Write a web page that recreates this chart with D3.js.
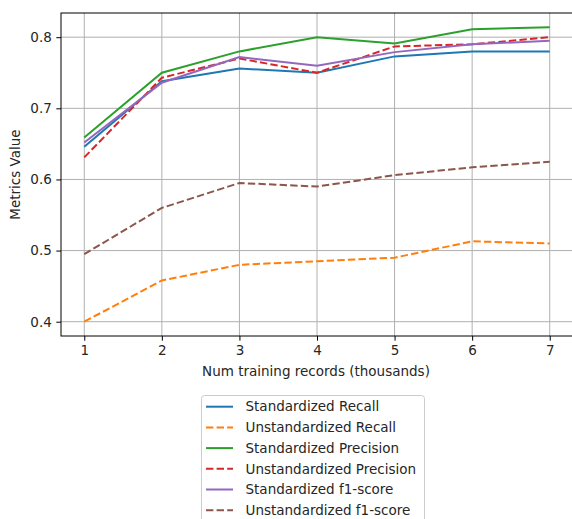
<!DOCTYPE html>
<html><head><meta charset="utf-8">
<script src="https://cdn.jsdelivr.net/npm/d3@7"></script>
<style>body{margin:0;background:#fff}svg{display:block}text{font-family:"DejaVu Sans",sans-serif;fill:#262626}</style>
</head><body>
<script>
const xValues = [1, 2, 3, 4, 5, 6, 7];
const stdRecall = [0.646, 0.738, 0.756, 0.750, 0.773, 0.780, 0.780];
const unstdRecall = [0.400, 0.458, 0.480, 0.485, 0.490, 0.513, 0.510];
const stdPrecision = [0.659, 0.750, 0.780, 0.800, 0.791, 0.811, 0.814];
const unstdPrecision = [0.631, 0.743, 0.770, 0.750, 0.787, 0.790, 0.800];
const stdF1 = [0.652, 0.736, 0.772, 0.760, 0.779, 0.790, 0.795];
const unstdF1 = [0.495, 0.560, 0.595, 0.590, 0.606, 0.617, 0.625];
const seriesNames = ["Standardized Recall", "Unstandardized Recall", "Standardized Precision", "Unstandardized Precision", "Standardized f1-score", "Unstandardized f1-score"];
const xTicks = [1, 2, 3, 4, 5, 6, 7];
const yTicks = [0.4, 0.5, 0.6, 0.7, 0.8];

const series = [
  {name: seriesNames[0], values: stdRecall, color: "#1f77b4", dashed: false},
  {name: seriesNames[1], values: unstdRecall, color: "#ff7f0e", dashed: true},
  {name: seriesNames[2], values: stdPrecision, color: "#2ca02c", dashed: false},
  {name: seriesNames[3], values: unstdPrecision, color: "#d62728", dashed: true},
  {name: seriesNames[4], values: stdF1, color: "#9467bd", dashed: false},
  {name: seriesNames[5], values: unstdF1, color: "#8c564b", dashed: true}
];

const W = 572, H = 519;
const L = 61, R = 573, T = 13, B = 336;
const fs = 13.5;
const lw = 2;
const dash = "7.4,3.2";
const svg = d3.select("body").append("svg").attr("width", W).attr("height", H);

const x = d3.scaleLinear().domain([0.7, 7.3]).range([L, R]);
const y = d3.scaleLinear().domain([0.3799, 0.834]).range([B, T]);

// grid
const grid = svg.append("g");
grid.selectAll(".gx").data(xTicks).join("line")
  .attr("x1", d => x(d)).attr("x2", d => x(d)).attr("y1", T).attr("y2", B)
  .attr("stroke", "#b0b0b0").attr("stroke-width", 1);
grid.selectAll(".gy").data(yTicks).join("line")
  .attr("x1", L).attr("x2", R).attr("y1", d => y(d)).attr("y2", d => y(d))
  .attr("stroke", "#b0b0b0").attr("stroke-width", 1);

// lines
const line = d3.line().x((d, i) => x(xValues[i])).y(d => y(d));
svg.append("g").selectAll("path").data(series).join("path")
  .attr("d", d => line(d.values))
  .attr("fill", "none").attr("stroke", d => d.color).attr("stroke-width", lw)
  .attr("stroke-dasharray", d => d.dashed ? dash : null);

// axes
const xAxis = d3.axisBottom(x).tickValues(xTicks).tickFormat(d3.format("d")).tickSize(4.7).tickPadding(4.5);
const yAxis = d3.axisLeft(y).tickValues(yTicks).tickFormat(d3.format(".1f")).tickSize(4.7).tickPadding(4.5);
const gx = svg.append("g").attr("transform", `translate(0,${B})`).call(xAxis);
const gy = svg.append("g").attr("transform", `translate(${L},0)`).call(yAxis);
[gx, gy].forEach(g => {
  g.select(".domain").remove();
  g.selectAll(".tick line").attr("stroke", "#000").attr("stroke-width", 1);
  g.selectAll(".tick text").attr("font-size", fs).attr("font-family", "DejaVu Sans").attr("fill", "#262626");
});
// spines
svg.append("rect").attr("x", L).attr("y", T).attr("width", R - L).attr("height", B - T)
  .attr("fill", "none").attr("stroke", "#000").attr("stroke-width", 1);

// axis labels
svg.append("text").attr("x", (L + R) / 2 - 1).attr("y", 376).attr("text-anchor", "middle")
  .attr("font-size", fs).text("Num training records (thousands)");
svg.append("text").attr("transform", `translate(20,${(T + B) / 2}) rotate(-90)`)
  .attr("text-anchor", "middle").attr("font-size", fs).text("Metrics Value");

// legend
const lg = svg.append("g");
lg.append("rect").attr("x", 201.5).attr("y", 395.5).attr("width", 223).attr("height", 140).attr("rx", 3)
  .attr("fill", "#fff").attr("fill-opacity", 0.8).attr("stroke", "#cccccc").attr("stroke-width", 1);
const items = lg.selectAll(".item").data(series).join("g")
  .attr("transform", (d, i) => `translate(0,${406.7 + i * 20.7})`);
items.append("line").attr("x1", 206).attr("x2", 233).attr("y1", 0).attr("y2", 0)
  .attr("stroke", d => d.color).attr("stroke-width", lw)
  .attr("stroke-dasharray", d => d.dashed ? dash : null);
items.append("text").attr("x", 245.5).attr("y", 0).attr("dy", "0.35em").attr("font-size", fs)
  .text(d => d.name);
</script>
</body></html>
